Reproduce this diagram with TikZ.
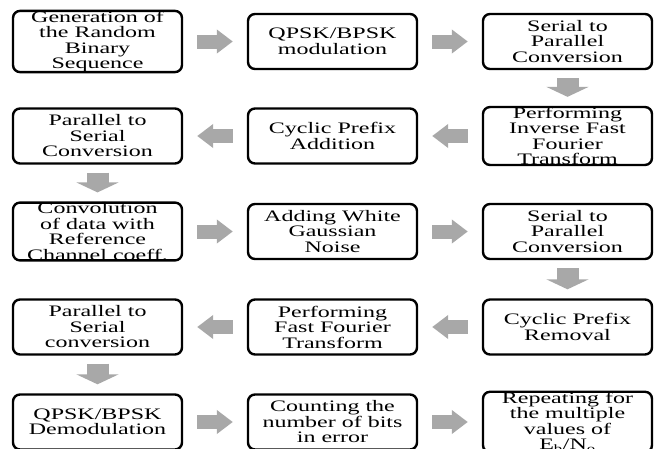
\documentclass[tikz,border=0pt]{standalone}
\usepackage{fontspec}
\setmainfont{Liberation Serif}[FakeStretch=1.5]
\usetikzlibrary{arrows.meta}
\definecolor{arrowgray}{RGB}{168,168,168}
\begin{document}
\begin{tikzpicture}[x=1pt,y=-1pt,
  stepbox/.style={draw=black, line width=2.4pt, rounded corners=7pt, fill=white,
    minimum width=169pt, minimum height=55pt, inner sep=0pt, align=center,
    font=\fontsize{16}{15.5}\selectfont},
  hflow/.style={draw=arrowgray, line width=14pt,
    -{Triangle[width=23pt,length=16pt]}, shorten <=14pt, shorten >=14pt},
  vflow/.style={draw=arrowgray, line width=22pt,
    -{Triangle[width=42pt,length=10pt]}, shorten <=8pt, shorten >=9pt}
]
\useasboundingbox (0,0) rectangle (654,448);
\fill[white] (0,0) rectangle (654,448);
% row 1
\node[stepbox] (gen) at (97.5,41.5) {Generation of\\the Random\\Binary\\Sequence};
\node[stepbox] (mod) at (332.5,41.5) {QPSK/BPSK\\modulation};
\node[stepbox] (sp1) at (567.5,41.5) {Serial to\\Parallel\\Conversion};
% row 2
\node[stepbox] (ps1) at (97.5,136) {Parallel to\\Serial\\Conversion};
\node[stepbox] (cpa) at (332.5,136) {Cyclic Prefix\\Addition};
\node[stepbox] (ifft) at (567.5,136) {Performing\\Inverse Fast\\Fourier\\Transform};
% row 3
\node[stepbox] (conv) at (97.5,231.5) {Convolution\\of data with\\Reference\\Channel coeff.};
\node[stepbox] (awgn) at (332.5,231.5) {Adding White\\Gaussian\\Noise};
\node[stepbox] (sp2) at (567.5,231.5) {Serial to\\Parallel\\Conversion};
% row 4
\node[stepbox] (ps2) at (97.5,327) {Parallel to\\Serial\\conversion};
\node[stepbox] (fft) at (332.5,327) {Performing\\Fast Fourier\\Transform};
\node[stepbox] (cpr) at (567.5,327) {Cyclic Prefix\\Removal};
% row 5
\node[stepbox] (demod) at (97.5,422) {QPSK/BPSK\\Demodulation};
\node[stepbox] (count) at (332.5,422) {Counting the\\number of bits\\in error};
\node[stepbox] (rep) at (567.5,422) {Repeating for\\the multiple\\values of\\E\textsubscript{b}/N\textsubscript{o}};
% arrows
\draw[hflow] (gen) -- (mod);
\draw[hflow] (mod) -- (sp1);
\draw[vflow] (sp1) -- (ifft);
\draw[hflow] (ifft) -- (cpa);
\draw[hflow] (cpa) -- (ps1);
\draw[vflow] (ps1) -- (conv);
\draw[hflow] (conv) -- (awgn);
\draw[hflow] (awgn) -- (sp2);
\draw[vflow] (sp2) -- (cpr);
\draw[hflow] (cpr) -- (fft);
\draw[hflow] (fft) -- (ps2);
\draw[vflow] (ps2) -- (demod);
\draw[hflow] (demod) -- (count);
\draw[hflow] (count) -- (rep);
\end{tikzpicture}
\end{document}
